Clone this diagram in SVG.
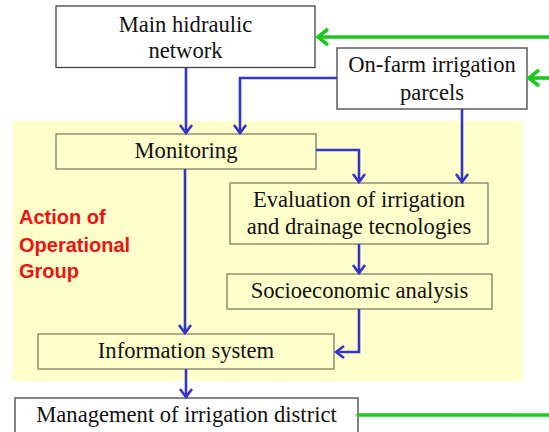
<svg xmlns="http://www.w3.org/2000/svg" width="549" height="432" viewBox="0 0 549 432">
  <style>
    .t { font-family: "Liberation Serif", "Times New Roman", serif; font-size: 22.6px; fill: #111; text-anchor: middle; }
    .wbox { fill: #ffffff; stroke: #444444; stroke-width: 1.3; }
    .ybox { fill: #ffffcc; stroke: #7f7f66; stroke-width: 1.3; }
    .blue { fill: none; stroke: #3535c8; stroke-width: 2.6; marker-end: url(#bh); }
    .green { fill: none; stroke: #1ec81e; stroke-width: 3.6; }
    .lab { font-family: "Liberation Sans", Arial, sans-serif; font-weight: bold; font-size: 20px; fill: #ee1111; }
  </style>
  <defs>
    <marker id="bh" markerUnits="userSpaceOnUse" markerWidth="20" markerHeight="20" viewBox="-10 -10 20 20" refX="0" refY="0" orient="auto" overflow="visible">
      <path d="M-8,-6 L0,0 L-8,6" fill="none" stroke="#3535c8" stroke-width="2.6" stroke-linejoin="miter"/>
    </marker>
    <marker id="gh" markerUnits="userSpaceOnUse" markerWidth="24" markerHeight="24" viewBox="-12 -12 24 24" refX="0" refY="0" orient="auto" overflow="visible">
      <path d="M-10,-8 L0,0 L-10,8" fill="none" stroke="#1ec81e" stroke-width="3.6" stroke-linejoin="miter"/>
    </marker>
  </defs>

  <rect id="operational-group" x="12" y="121" width="511" height="260" fill="#ffffcc"/>
  <text class="lab" x="19" y="224">Action of</text>
  <text class="lab" x="19" y="251.5">Operational</text>
  <text class="lab" x="19" y="278">Group</text>

  <g id="main-network">
    <rect class="wbox" x="56" y="6" width="259" height="61.5"/>
    <text class="t" x="185.5" y="31.5">Main hidraulic</text>
    <text class="t" x="185.5" y="58">network</text>
  </g>
  <g id="on-farm">
    <rect class="wbox" x="337" y="48" width="190" height="61"/>
    <text class="t" x="432" y="72">On-farm irrigation</text>
    <text class="t" x="432" y="100">parcels</text>
  </g>
  <g id="monitoring">
    <rect class="ybox" x="56" y="134" width="260" height="35"/>
    <text class="t" x="186" y="158">Monitoring</text>
  </g>
  <g id="evaluation">
    <rect class="ybox" x="230" y="183" width="258" height="61"/>
    <text class="t" x="359" y="207">Evaluation of irrigation</text>
    <text class="t" x="359" y="234">and drainage tecnologies</text>
  </g>
  <g id="socioeconomic">
    <rect class="ybox" x="227" y="274" width="265" height="35"/>
    <text class="t" x="359.5" y="298">Socioeconomic analysis</text>
  </g>
  <g id="information">
    <rect class="ybox" x="38" y="334" width="296" height="35"/>
    <text class="t" x="186" y="358">Information system</text>
  </g>
  <g id="management">
    <rect class="wbox" x="15" y="398" width="343" height="40"/>
    <text class="t" x="186.5" y="421.5">Management of irrigation district</text>
  </g>

  <g id="connectors">
    <path class="blue" d="M186,67.5 L186,133"/>
    <path class="blue" d="M337,78 L240,78 L240,133"/>
    <path class="blue" d="M462,109 L462,182"/>
    <path class="blue" d="M316,150 L359,150 L359,182"/>
    <path class="blue" d="M185,169 L185,333"/>
    <path class="blue" d="M359,244 L359,273"/>
    <path class="blue" d="M359,309 L359,352 L336,352"/>
    <path class="blue" d="M186,369 L186,397"/>
    <path class="green" d="M549,37 L318,37" marker-end="url(#gh)"/>
    <path class="green" d="M549,78 L529,78" marker-end="url(#gh)"/>
    <path class="green" d="M358,415 L549,415" stroke-linecap="round"/>
  </g>
</svg>
